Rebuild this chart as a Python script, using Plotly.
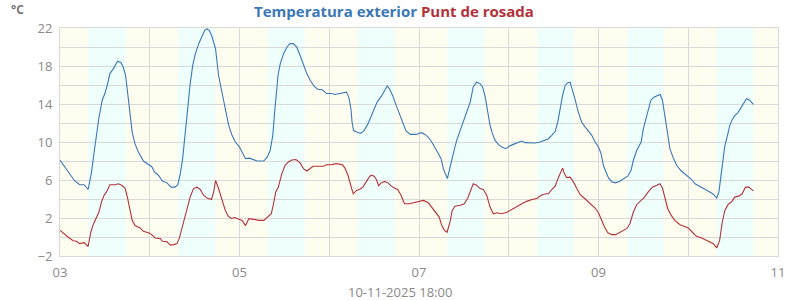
import pandas as pd
import plotly.graph_objects as go

# ---- data (hours since 2025-11-03 00:00) ----
temp_hours = [0, 1.25, 2.15, 3.04, 3.94, 5.28, 6.45, 7.52, 8.42, 9.13, 9.76, 10.39, 11.28, 12.0, 12.72,
              13.34, 14.24, 15.4, 16.3, 16.9, 17.55, 18.1, 18.7, 19.3, 20.06, 20.96, 22.3, 23.64, 24.54,
              25.25, 26.3, 27.4, 28.6, 29.7, 30.8, 31.5, 32.1, 32.8, 33.5, 34.2, 34.8, 35.5, 36.2, 37.1,
              38.0, 38.7, 39.3, 39.9, 40.7, 41.6, 42.4, 43.3, 44.2, 45.1, 46.0, 46.9,
              48.0, 48.7, 49.6, 50.7, 51.8, 52.7, 54.5, 55.4, 56.2, 56.9, 57.4, 57.8, 58.3, 58.9, 59.8,
              60.7, 61.5, 62.4, 63.3, 64.2, 65.1, 66.0, 66.9, 68.0, 68.9, 70.1, 71.3, 72.6, 73.5, 74.8,
              75.7, 76.6, 77.2, 77.8, 78.1, 78.5, 79.3, 80.4, 81.3, 82.2, 83.1, 84.0, 84.8, 85.9, 86.8,
              87.5, 88.1, 89.0, 89.9, 90.8, 91.7, 92.5, 93.7, 95.2,
              96.0, 96.7, 97.6, 98.5, 99.4, 100.3, 101.2, 101.9, 102.5, 103.1, 103.6, 104.0, 104.7, 105.5,
              106.1, 107.0, 107.9, 108.8, 109.7, 110.5, 111.4, 112.3, 113.0, 113.7, 114.4, 115.0, 115.6,
              116.3, 117.2, 118.1, 119.2, 120.1, 121.2, 122.6, 123.5, 124.4, 125.7, 127.0, 128.4, 129.7,
              130.6, 131.5, 132.4, 133.1, 133.7, 134.4, 135.1, 135.8, 136.4, 137.0, 137.7, 138.6, 139.5,
              140.4, 141.3, 142.2, 143.1,
              144.0, 144.7, 145.3, 146.0, 146.7, 147.6, 148.6, 149.8, 150.7, 151.8, 152.7, 153.3, 154.2,
              155.4, 156.0, 156.6, 157.3, 158.0, 158.9, 159.8, 160.5, 161.1, 161.8, 162.5, 163.1, 164.0,
              164.9, 166.0, 167.1, 168.0, 168.9, 169.8, 171.1, 172.0, 173.3, 174.7, 175.6, 176.2, 176.7,
              177.3, 177.8, 178.5, 179.1, 179.7, 180.4, 181.3, 182.2, 182.9, 183.6, 184.4, 185.4]
temp_values = [8.1, 7.37, 6.95, 6.3, 5.9, 5.5, 5.5, 5.0, 6.8, 8.95, 11.05, 12.5, 14.4, 15.1, 16.1,
               17.2, 17.7, 18.5, 18.35, 17.9, 17.0, 15.3, 13.2, 11.05, 9.8, 8.95, 8.0, 7.6, 7.4,
               6.85, 6.5, 5.9, 5.7, 5.25, 5.25, 5.5, 6.5, 8.25, 11.05, 13.9, 16.1, 18.1, 19.3, 20.35,
               21.2, 21.75, 21.9, 21.75, 21.05, 19.8, 17.0, 15.3, 13.5, 11.75, 10.7, 10.0,
               9.47, 9.0, 8.25, 8.3, 8.1, 8.0, 8.0, 8.4, 9.1, 10.7, 13.15, 15.25, 17.0, 18.25, 19.3,
               20.0, 20.35, 20.35, 20.0, 19.1, 18.1, 17.2, 16.5, 15.85, 15.55, 15.5, 15.1, 15.1, 15.0, 15.1,
               15.1, 15.25, 14.75, 13.5, 12.1, 11.2, 11.05, 10.9, 11.2, 11.8, 12.6, 13.5, 14.2, 14.8, 15.4,
               15.9, 15.6, 14.85, 13.85, 12.9, 11.9, 11.2, 10.8, 10.8,
               10.9, 10.98, 10.8, 10.5, 10.0, 9.3, 8.77, 8.25, 7.2, 6.6, 6.15, 6.85, 8.1, 9.3,
               10.2, 11.2, 12.1, 13.0, 14.2, 15.8, 16.3, 16.15, 15.8, 14.75, 13.0, 11.75, 10.9,
               10.2, 9.75, 9.47, 9.3, 9.55, 9.75, 9.93, 10.1, 9.93, 9.9, 9.9, 10.0, 10.2,
               10.35, 10.7, 11.1, 12.1, 13.5, 14.9, 15.95, 16.25, 16.3, 15.6, 14.55, 13.15, 12.1,
               11.6, 11.2, 10.7, 10.0,
               9.47, 8.77, 7.55, 6.85, 6.2, 5.8, 5.7, 5.9, 6.15, 6.4, 7.0, 8.05, 9.1,
               10.0, 11.4, 12.3, 13.5, 14.4, 14.75, 14.9, 15.0, 14.4, 12.45, 10.5, 9.3, 8.3,
               7.55, 7.0, 6.65, 6.3, 6.05, 5.6, 5.35, 5.15, 4.85, 4.5, 4.1, 4.75, 6.15,
               8.25, 9.65, 10.7, 11.75, 12.3, 12.75, 13.1, 13.7, 14.15, 14.55, 14.4, 13.95]

dew_hours = [0, 1.25, 2.15, 3.5, 4.4, 5.28, 6.45, 7.52, 8.24, 8.87, 9.76, 10.39, 11.1, 11.8, 12.45,
             13.34, 14.7, 15.6, 16.5, 17.4, 18.1, 18.7, 19.3, 20.06, 21.4, 22.3, 23.64, 24.54, 25.4,
             26.8, 27.4, 28.6, 29.5, 30.4, 31.3, 31.9, 32.6, 33.5, 34.2, 34.8, 35.7, 36.6, 37.5, 38.4,
             39.3, 40.5, 41.1, 41.6, 42.4, 43.3, 44.2, 45.0, 45.8, 46.7,
             48.0, 48.7, 49.6, 50.5, 51.8, 53.1, 54.5, 55.4, 56.5, 57.1, 57.7, 58.4, 59.3, 60.2, 61.1,
             62.0, 63.1, 64.2, 65.1, 66.0, 66.9, 67.7, 69.1, 70.4, 71.3, 72.6, 73.5, 74.4, 75.5, 76.2,
             77.0, 77.8, 78.4, 79.3, 80.1, 81.0, 81.9, 82.5, 83.2, 84.0, 84.6, 85.2, 85.9, 86.8, 87.7,
             88.6, 89.4, 90.3, 91.2, 92.1, 93.4, 94.8,
             96.0, 97.2, 98.5, 99.4, 100.3, 101.4, 102.1, 102.8, 103.5, 104.3, 104.9, 105.6, 107.0,
             108.1, 109.0, 109.9, 110.5, 111.4, 112.3, 113.2, 114.1, 115.0, 115.9, 116.8, 118.1, 119.5,
             120.8, 122.1, 123.5, 124.8, 126.2, 127.5, 128.7, 129.9, 130.6, 131.5, 132.4, 133.3, 133.9,
             134.4, 134.9, 135.5, 136.4, 137.3, 138.2, 139.1, 140.3, 141.3, 142.2, 143.1,
             144.0, 144.7, 145.6, 146.5, 147.6, 148.6, 149.5, 150.4, 151.6, 152.4, 153.3, 154.2, 155.1,
             156.3, 157.3, 158.4, 159.6, 160.4, 161.1, 161.8, 162.5, 163.4, 164.4, 165.8, 167.1, 168.0,
             169.1, 170.2, 171.6, 172.9, 173.8, 174.7, 175.6, 176.4, 177.1, 177.8, 178.7, 179.6, 180.4,
             181.5, 182.4, 183.3, 184.2, 185.4]
dew_values = [0.7, 0.25, 0.0, -0.4, -0.45, -0.7, -0.6, -1.0, 0.5, 1.3, 2.1, 2.6, 3.7, 4.4, 4.75,
              5.5, 5.5, 5.6, 5.45, 5.15, 4.05, 2.8, 1.75, 1.2, 0.95, 0.6, 0.45, 0.25, -0.1,
              -0.15, -0.45, -0.5, -0.85, -0.8, -0.7, -0.15, 0.9, 2.3, 3.35, 4.2, 5.1, 5.25, 5.0, 4.4,
              4.1, 3.95, 4.75, 5.95, 5.1, 4.05, 2.8, 2.2, 1.95, 2.05,
              1.86, 1.75, 1.2, 1.93, 1.86, 1.75, 1.75, 2.1, 2.45, 3.5, 4.75, 5.25, 6.65, 7.55, 7.9,
              8.1, 8.15, 7.8, 7.2, 6.95, 7.25, 7.45, 7.45, 7.45, 7.6, 7.6, 7.7, 7.7, 7.6, 7.25,
              6.5, 5.5, 4.55, 4.9, 5.0, 5.25, 5.85, 6.2, 6.5, 6.4, 6.05, 5.4, 5.7, 5.85, 5.7,
              5.35, 5.15, 5.0, 4.4, 3.5, 3.5, 3.6,
              3.7, 3.85, 3.6, 3.15, 2.6, 2.1, 1.2, 0.7, 0.5, 1.6, 2.8, 3.25, 3.35,
              3.5, 4.05, 4.9, 5.6, 5.45, 5.1, 5.0, 4.4, 3.15, 2.45, 2.55, 2.45, 2.6,
              2.9, 3.25, 3.5, 3.75, 3.95, 4.05, 4.4, 4.55, 4.55, 5.0, 5.35, 6.3, 6.85,
              7.25, 6.65, 6.25, 6.3, 5.8, 5.1, 4.45, 4.05, 3.7, 3.4, 3.05,
              2.55, 1.93, 1.05, 0.45, 0.25, 0.25, 0.45, 0.7, 0.9, 1.4, 2.6, 3.4, 3.7,
              4.2, 4.75, 5.25, 5.45, 5.6, 5.15, 4.05, 3.0, 2.3, 1.75, 1.3, 1.1, 0.95,
              0.5, 0.07, -0.1, -0.35, -0.6, -0.7, -1.15, -0.35, 1.58, 2.8, 3.45, 3.7, 4.2,
              4.3, 4.55, 5.25, 5.25, 4.85]

days = ["2025-11-03", "2025-11-04", "2025-11-05", "2025-11-06",
        "2025-11-07", "2025-11-08", "2025-11-09", "2025-11-10"]
sunrise = ["07:27", "07:29", "07:30", "07:31", "07:33", "07:34", "07:35", "07:37"]
sunset = ["17:36", "17:35", "17:34", "17:32", "17:31", "17:30", "17:29", "17:28"]

y_tick_vals = [-2, 2, 6, 10, 14, 18, 22]
x_tick_vals = ["2025-11-03", "2025-11-05", "2025-11-07", "2025-11-09", "2025-11-11"]
x_tick_text = ["03", "05", "07", "09", "11"]
x_title = "10-11-2025 18:00"

base = pd.Timestamp("2025-11-03 00:00")
tx = base + pd.to_timedelta(temp_hours, unit="h")
dx = base + pd.to_timedelta(dew_hours, unit="h")

BLUE = "#3a78b8"
RED = "#b3323a"
GRID = "#d9d9d9"
TICK = "#8a8a8a"

fig = go.Figure()
fig.add_trace(go.Scatter(x=tx, y=temp_values, mode="lines", line=dict(color=BLUE, width=1.1),
                         name="Temperatura exterior", hoverinfo="x+y"))
fig.add_trace(go.Scatter(x=dx, y=dew_values, mode="lines", line=dict(color=RED, width=1.1),
                         name="Punt de rosada", hoverinfo="x+y"))

shapes = []
for d, sr, ss in zip(days, sunrise, sunset):
    shapes.append(dict(type="rect", xref="x", yref="paper", x0=f"{d} {sr}", x1=f"{d} {ss}",
                       y0=0, y1=1, fillcolor="#eefffc", line=dict(width=0), layer="below"))

fig.update_layout(
    width=800, height=300,
    margin=dict(l=60, r=22, t=28, b=44),
    paper_bgcolor="white",
    plot_bgcolor="#fffdef",
    showlegend=False,
    shapes=shapes,
    font=dict(family="Open Sans, sans-serif", color=TICK, size=13),
    annotations=[
        dict(text="<b><span style='color:%s'>Temperatura exterior</span> <span style='color:%s'>Punt de rosada</span></b>" % (BLUE, RED),
             xref="paper", yref="paper", x=0.465, y=1.0, yshift=17, xanchor="center", yanchor="middle",
             showarrow=False, font=dict(size=15, family="Open Sans, sans-serif")),
        dict(text="<b>°C</b>", xref="paper", yref="paper", x=0, xshift=-51, y=1.0, yshift=19,
             xanchor="left", yanchor="middle", showarrow=False, font=dict(size=12, color="#777")),
        dict(text=x_title, xref="paper", yref="paper", x=(400 - 60) / 718, y=0, yshift=-36,
             xanchor="center", yanchor="middle", showarrow=False, font=dict(size=13, color=TICK)),
    ],
)

fig.update_xaxes(
    type="date",
    range=["2025-11-03", "2025-11-11"],
    tickvals=x_tick_vals, ticktext=x_tick_text,
    showgrid=True, gridcolor=GRID, gridwidth=1,
    minor=dict(dtick=86400000, tick0="2025-11-03", showgrid=True, gridcolor=GRID, gridwidth=1),
    showline=True, linecolor=GRID, mirror=True,
    ticks="", tickfont=dict(size=13, color=TICK), ticklabelstandoff=4,
    zeroline=False,
)
fig.update_yaxes(
    range=[-2, 22],
    tickvals=y_tick_vals,
    showgrid=True, gridcolor=GRID, gridwidth=1,
    minor=dict(dtick=2, tick0=0, showgrid=True, gridcolor=GRID, gridwidth=1),
    showline=True, linecolor=GRID, mirror=True,
    ticks="", tickfont=dict(size=13, color=TICK), ticklabelstandoff=4,
    zeroline=False,
)

fig.write_html("out.html")
